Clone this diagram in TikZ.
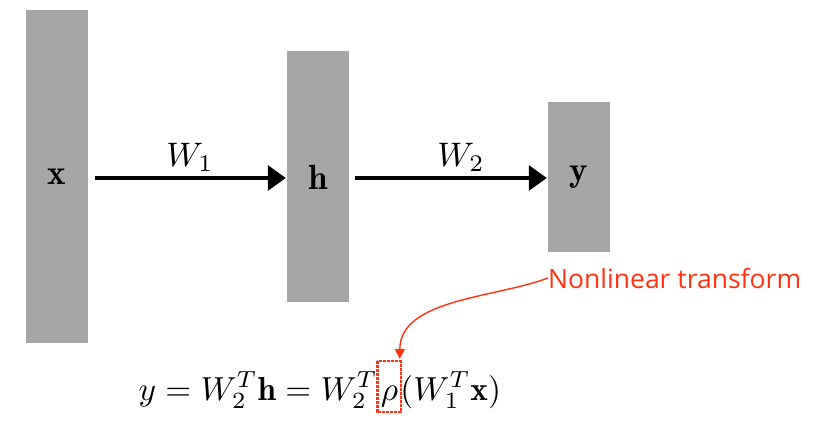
\documentclass[tikz,border=0pt]{standalone}
\usepackage{fontspec}
\usepackage{amsmath}
\newfontfamily\annfont{Open Sans}
\usetikzlibrary{arrows.meta}
\definecolor{layergray}{HTML}{A6A6A6}
\definecolor{annred}{HTML}{FF3311}
\tikzset{
  layer/.style={fill=layergray, draw=none, minimum width=62pt, inner sep=0pt},
  conn/.style={line width=3.2pt, black, -{Triangle[length=18pt,width=25pt]}, shorten >=1pt},
  wlabel/.style={inner sep=0pt, scale=3.4, transform shape},
  lbl/.style={inner sep=0pt, scale=3.5, transform shape},
  eqpart/.style={inner sep=0pt, anchor=base west, scale=3.33, transform shape},
  ann/.style={font=\annfont\fontsize{26.5}{30}\selectfont, text=annred, inner sep=0pt},
  rhobox/.style={draw=annred, line width=2.6pt, dash pattern=on 3pt off 1pt},
}
\begin{document}
\begin{tikzpicture}[x=1pt,y=-1pt]
\useasboundingbox (0,0) rectangle (817,433);
% layers
\node[layer, minimum height=333pt] (X) at (57,176.5) {};
\node[layer, minimum height=251pt] (H) at (318,176.5) {};
\node[layer, minimum height=150pt] (Y) at (579,177) {};
\node[lbl] (xl) at (57,177) {$\mathbf{x}$};
\node[lbl] (hl) at (318,177) {$\mathbf{h}$};
\node[lbl] (yl) at (579,177) {$\mathbf{y}$};
% arrows
\coordinate (a1s) at (95,178);
\coordinate (a2s) at (355,178);
\draw[conn] (a1s) -- (a1s -| H.west);
\draw[conn] (a2s) -- (a2s -| Y.west);
\node[wlabel] (w1) at (190,157) {$W_1$};
\node[wlabel] (w2) at (461,157) {$W_2$};
% equation
\node[eqpart] (e1) at (138,400) {$y=W_2^T\mathbf{h}=W_2^T$};
\node[eqpart] (rho) at ([xshift=2pt]e1.base east) {$\rho$};
\node[eqpart] (e3) at ([xshift=1pt]rho.base east) {$(W_1^T\mathbf{x})$};
\draw[rhobox] ([xshift=-3pt,yshift=39pt]rho.base west) rectangle ([xshift=2pt,yshift=-12pt]rho.base east);
% annotation
\node[ann, anchor=west] (ann) at (548,278) {Nonlinear transform};
\coordinate (tip) at ([xshift=1pt,yshift=41pt]rho.base east);
\draw[annred, line width=1.4pt, -{Triangle[length=10pt,width=10pt]}]
  (ann.west) .. controls (495,298) and ([yshift=60pt]tip) .. (tip);
\end{tikzpicture}
\end{document}
